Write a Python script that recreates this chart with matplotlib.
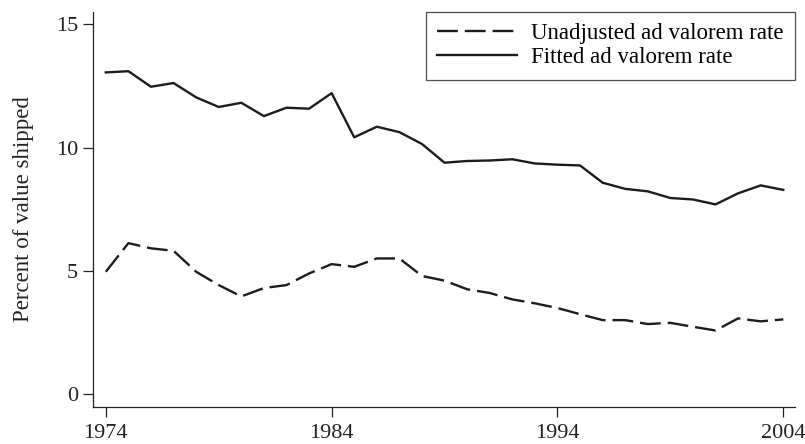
import matplotlib
matplotlib.use("Agg")
import matplotlib.pyplot as plt

# data (percent of value shipped)
years = list(range(1974, 2005))

unadjusted = [4.97, 6.13, 5.92, 5.82, 4.97, 4.43, 3.97, 4.31, 4.43, 4.90,
              5.28, 5.17, 5.51, 5.51, 4.80, 4.61, 4.26, 4.11, 3.85, 3.69,
              3.50, 3.25, 3.01, 3.01, 2.85, 2.90, 2.74, 2.59, 3.08, 2.96,
              3.04]

fitted = [13.05, 13.10, 12.47, 12.62, 12.04, 11.65, 11.82, 11.28, 11.62, 11.58,
          12.21, 10.42, 10.85, 10.63, 10.15, 9.39, 9.46, 9.48, 9.53, 9.36,
          9.31, 9.28, 8.58, 8.33, 8.23, 7.96, 7.90, 7.70, 8.15, 8.47,
          8.29]

x_ticks = [1974, 1984, 1994, 2004]
y_ticks = [0, 5, 10, 15]

plt.rcParams["font.family"] = ["Liberation Serif", "DejaVu Serif"]
plt.rcParams["lines.scale_dashes"] = False

LINE_COLOR = "#1c1c1c"
TEXT_COLOR = "#222222"

fig = plt.figure(figsize=(8.05, 4.44), dpi=100)
ax = fig.add_axes([0.116, 0.084, 0.8716, 0.889])

ax.plot(years, unadjusted, color=LINE_COLOR, lw=1.7, dashes=(15, 5),
        label="Unadjusted ad valorem rate")
ax.plot(years, fitted, color=LINE_COLOR, lw=1.7, label="Fitted ad valorem rate")

ax.set_xlim(1973.45, 2004.52)
ax.set_ylim(-0.5, 15.5)
ax.set_xticks(x_ticks)
ax.set_yticks(y_ticks)
ax.tick_params(axis="both", direction="out", length=7, width=0.9,
               labelsize=16, colors=TEXT_COLOR)
ax.tick_params(axis="x", pad=5.5)
ax.tick_params(axis="y", pad=4)

ax.spines[["top", "right"]].set_visible(False)
for side in ["left", "bottom"]:
    ax.spines[side].set_linewidth(0.9)
    ax.spines[side].set_color(TEXT_COLOR)

ax.set_ylabel("Percent of value shipped", fontsize=16.5, color=TEXT_COLOR,
              labelpad=16)

leg = ax.legend(loc="upper right", bbox_to_anchor=(1.0, 1.0), borderaxespad=0,
                fontsize=16.5, frameon=True, fancybox=False, handlelength=3.5,
                handletextpad=0.6, borderpad=0.5, labelspacing=0.12)
leg.get_frame().set_edgecolor(TEXT_COLOR)
leg.get_frame().set_linewidth(0.9)

fig.savefig("out.png", dpi=100)
